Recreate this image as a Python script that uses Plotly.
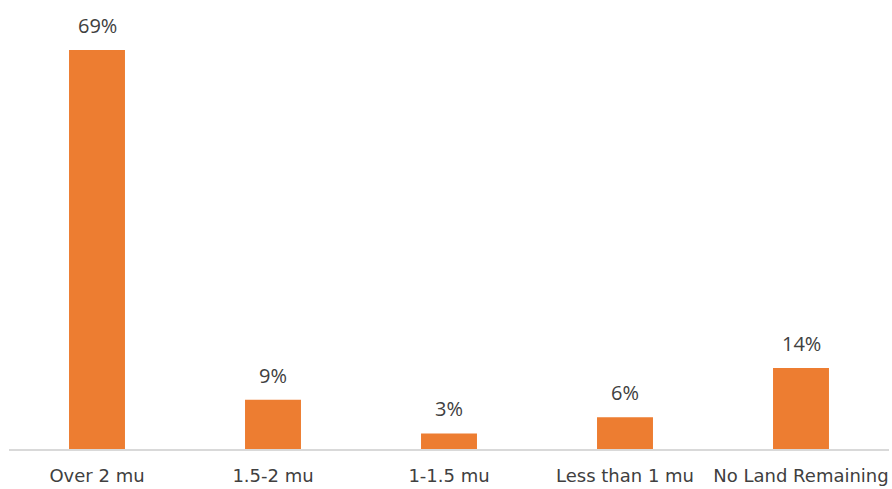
import plotly.graph_objects as go

categories = ["Over 2 mu", "1.5-2 mu", "1-1.5 mu", "Less than 1 mu", "No Land Remaining"]
values = [69, 8.5, 2.7, 5.5, 14]
labels = ["69%", "9%", "3%", "6%", "14%"]

fig = go.Figure(go.Bar(x=categories, y=values, marker_color="#ED7D31", marker_line_width=0,
                       hoverinfo="skip"))

for c, v, t in zip(categories, values, labels):
    fig.add_annotation(x=c, y=v, text=t, showarrow=False, yanchor="bottom", yshift=9,
                       font=dict(family="Open Sans", size=20, color="#404040"))

fig.update_layout(
    width=892, height=489,
    margin=dict(l=9, r=3, t=20, b=40),
    plot_bgcolor="white", paper_bgcolor="white",
    bargap=0.682,
    showlegend=False,
    xaxis=dict(showline=True, linecolor="#D9D9D9", linewidth=2, ticks="",
               tickfont=dict(family="DejaVu Sans", size=18, color="#404040"),
               ticklabelstandoff=9, automargin=False),
    yaxis=dict(range=[0, 74.18], visible=False, showgrid=False, zeroline=False,
               automargin=False),
)
fig.write_html("out.html")
